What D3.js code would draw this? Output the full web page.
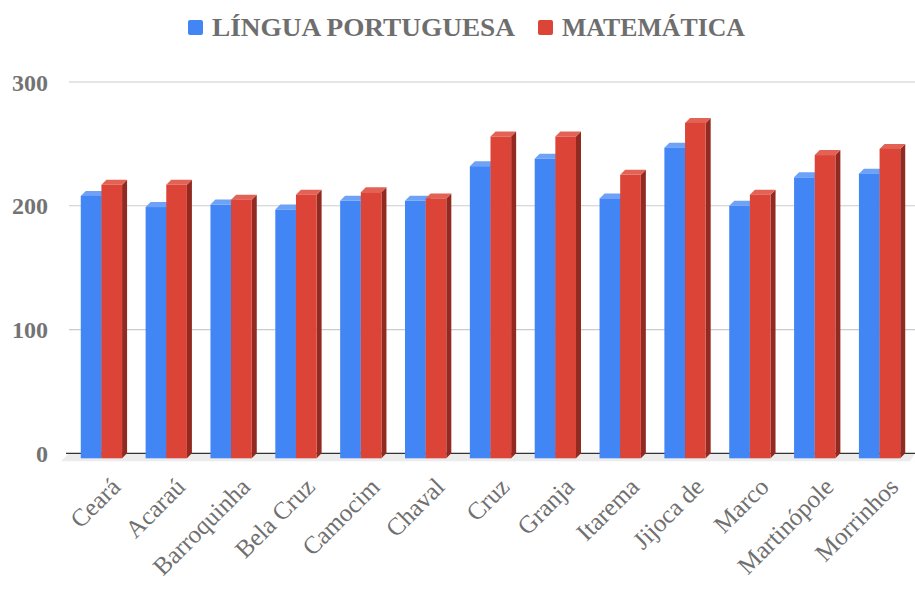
<!DOCTYPE html>
<html>
<head>
<meta charset="utf-8">
<script src="https://cdn.jsdelivr.net/npm/d3@7"></script>
<style>
  body { margin: 0; background: #fff; }
  text { font-family: "Liberation Serif", "Times New Roman", serif; }
</style>
</head>
<body>
<div class="chart-container"></div>
<script>
// municipios e notas medias
var categories = ['Ceará', 'Acaraú', 'Barroquinha', 'Bela Cruz', 'Camocim', 'Chaval', 'Cruz',
  'Granja', 'Itarema', 'Jijoca de', 'Marco', 'Martinópole', 'Morrinhos'];
var series = ['LÍNGUA PORTUGUESA', 'MATEMÁTICA'];
var portugues = [212, 203, 205, 201, 208, 208, 236, 242, 210, 251, 204, 227, 230];
var matematica = [221, 221, 209, 213, 215, 210, 260, 260, 229, 271, 213, 245, 250];
var yTicks = [0, 100, 200, 300];

var width = 915, height = 592;
var depth = 5; // profundidade do efeito 3d

var colors = {
  'LÍNGUA PORTUGUESA': { front: '#4285f4', top: '#6ea2f7', side: '#2f63bf' },
  'MATEMÁTICA': { front: '#db4437', top: '#e36256', side: '#922a22' }
};

var data = categories.map(function (c, i) {
  return { cat: c, values: [
    { key: series[0], v: portugues[i] },
    { key: series[1], v: matematica[i] }
  ] };
});

var svg = d3.select('.chart-container').append('svg')
    .attr('width', width)
    .attr('height', height);

var x0 = d3.scaleBand().domain(categories).range([69, 912]).padding(0);
var x1 = d3.scaleBand().domain(series).range([0, x0.bandwidth()]).paddingInner(0).paddingOuter(0.57);
var y = d3.scaleLinear().domain([0, 300]).range([453.3, 82]);

// grid
var grid = svg.append('g').attr('class', 'grid');
grid.selectAll('line').data(yTicks.filter(function (d) { return d > 0; }))
  .enter().append('line')
    .attr('x1', 69).attr('x2', width)
    .attr('y1', function (d) { return y(d); })
    .attr('y2', function (d) { return y(d); })
    .attr('stroke', '#cccccc')
    .attr('stroke-width', 1.2);

// piso
svg.append('path')
  .attr('d', 'M69,' + y(0) + 'L' + width + ',' + y(0) + 'L' + (width - depth) + ',' + (y(0) + depth + 3) +
    'L' + (69 - depth - 3) + ',' + (y(0) + depth + 3) + 'Z')
  .attr('fill', '#ececec');
svg.append('line')
  .attr('x1', 66).attr('x2', width)
  .attr('y1', y(0)).attr('y2', y(0))
  .attr('stroke', '#333').attr('stroke-width', 1.2);

// y axis labels
var yAxis = d3.axisLeft(y).tickValues(yTicks).tickSize(0).tickPadding(0);
var yg = svg.append('g').attr('transform', 'translate(48,0)').call(yAxis);
yg.select('.domain').remove();
yg.selectAll('text')
  .attr('font-family', '"Liberation Serif", serif')
  .attr('font-size', 24)
  .attr('font-weight', 'bold')
  .attr('fill', '#737373')
  .attr('dy', '0.34em');

// barras
var groups = svg.selectAll('.group').data(data)
  .enter().append('g')
    .attr('class', 'group')
    .attr('transform', function (d) { return 'translate(' + x0(d.cat) + ',0)'; });

var bars = groups.selectAll('.bar').data(function (d) { return d.values; })
  .enter().append('g').attr('class', 'bar');

bars.each(function (d) {
  var g = d3.select(this);
  var bx = x1(d.key), bw = x1.bandwidth();
  var top = y(d.v) + depth, bottom = y(0) + depth;
  var c = colors[d.key];
  // lateral
  g.append('path')
    .attr('d', 'M' + (bx + bw) + ',' + top + 'L' + (bx + bw + depth) + ',' + (top - depth) +
      'L' + (bx + bw + depth) + ',' + (bottom - depth) + 'L' + (bx + bw) + ',' + bottom + 'Z')
    .attr('fill', c.side);
  // topo
  g.append('path')
    .attr('d', 'M' + bx + ',' + top + 'L' + (bx + depth) + ',' + (top - depth) +
      'L' + (bx + bw + depth) + ',' + (top - depth) + 'L' + (bx + bw) + ',' + top + 'Z')
    .attr('fill', c.top);
  // frente
  g.append('rect')
    .attr('x', bx).attr('y', top)
    .attr('width', bw).attr('height', bottom - top)
    .attr('fill', c.front);
});

// x labels
var xl = svg.append('g').attr('class', 'x-labels');
xl.selectAll('text').data(categories)
  .enter().append('text')
    .attr('transform', function (d) {
      return 'translate(' + (x0(d) + x0.bandwidth() / 2 + 8) + ',476) rotate(-45)';
    })
    .attr('text-anchor', 'end')
    .attr('dy', '0.7em')
    .attr('font-size', 25)
    .attr('fill', '#707070')
    .text(function (d) { return d; });

// legenda
var legend = svg.append('g').attr('class', 'legend');
var legX = [188, 538];
var legW = [303, 183];
series.forEach(function (s, i) {
  legend.append('rect')
    .attr('x', legX[i]).attr('y', 20)
    .attr('width', 15).attr('height', 15)
    .attr('rx', 2)
    .attr('fill', colors[s].front);
  legend.append('text')
    .attr('x', legX[i] + 24).attr('y', 36)
    .attr('font-size', 25)
    .attr('font-weight', 'bold')
    .attr('fill', '#6e6e6e')
    .attr('textLength', legW[i])
    .attr('lengthAdjust', 'spacingAndGlyphs')
    .text(s);
});
</script>
</body>
</html>
